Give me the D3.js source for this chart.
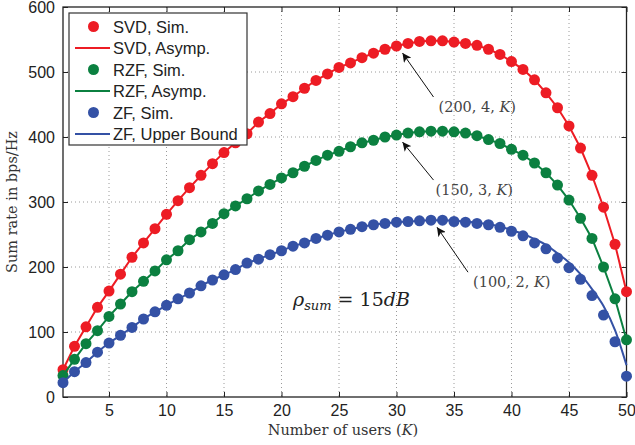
<!DOCTYPE html>
<html>
<head>
<meta charset="utf-8">
<script src="https://cdnjs.cloudflare.com/ajax/libs/d3/7.8.5/d3.min.js"></script>
<style>
  body { margin: 0; background: #fff; }
  svg { display: block; }
</style>
</head>
<body>
<script>
// number of users K = 1..50
var users = d3.range(1, 51);

var svdSim = [42, 78, 108, 138, 163, 189, 215, 237, 259, 281,
              302, 322, 341, 359, 376, 391, 405, 423, 436, 451,
              462, 475, 487, 497, 507, 514, 522, 529, 535, 540,
              544, 547, 548, 548, 546, 544, 541, 535, 527, 516,
              504, 488, 468, 445, 417, 383, 341, 292, 235, 162];
var svdAsymp = svdSim;

var rzfSim = [33, 58, 82, 102, 124, 143, 162, 178, 194, 211,
              225, 242, 254, 267, 282, 294, 305, 317, 327, 337,
              345, 355, 364, 372, 378, 385, 391, 395, 400, 403,
              406, 408, 409, 409, 408, 406, 402, 396, 390, 381,
              372, 360, 345, 326, 303, 275, 244, 200, 151, 88];
var rzfAsymp = rzfSim;

var zfSim = [22, 39, 53, 69, 83, 95, 107, 120, 131, 141,
             151, 160, 171, 180, 188, 196, 206, 212, 219, 225,
             232, 237, 244, 249, 254, 258, 262, 265, 267, 269,
             270, 271, 272, 272, 270, 269, 267, 265, 261, 255,
             248, 237, 228, 214, 199, 181, 156, 126, 85, 32];
var zfBound = [22, 39, 53, 69, 83, 95, 107, 120, 131, 141,
               151, 160, 171, 180, 188, 196, 206, 212, 219, 225,
               232, 237, 244, 249, 254, 258, 262, 265, 267, 269,
               270, 271, 272, 272, 271, 270, 268, 266, 262, 257,
               251, 243, 234, 221, 207, 189, 166, 140, 103, 49];

var xTicks = [5, 10, 15, 20, 25, 30, 35, 40, 45, 50];
var yTicks = [0, 100, 200, 300, 400, 500, 600];

var legendLabels = ["SVD, Sim.", "SVD, Asymp.", "RZF, Sim.", "RZF, Asymp.", "ZF, Sim.", "ZF, Upper Bound"];

// annotations: point on curve the arrow aims at, and the label
var notes = [
  {k: 30, v: 540, label: "200, 4, "},
  {k: 30, v: 403, label: "150, 3, "},
  {k: 33, v: 272, label: "100, 2, "}
];

var red = "#ed1c24", green = "#0b8040", blue = "#3451a5";

var width = 635, height = 445;
var plotLeft = 63, plotRight = 626.5, plotTop = 7, plotBottom = 397;

var svg = d3.select("body").append("svg")
    .attr("width", width)
    .attr("height", height);

var x = d3.scaleLinear().domain([1, 50]).range([plotLeft, plotRight]);
var y = d3.scaleLinear().domain([0, 600]).range([plotBottom, plotTop]);

// grid
svg.append("g").selectAll("line")
    .data(xTicks.filter(function(d) { return d < 50; }))
    .join("line")
    .attr("x1", function(d) { return x(d); })
    .attr("x2", function(d) { return x(d); })
    .attr("y1", plotTop).attr("y2", plotBottom)
    .attr("stroke", "#9a9a9a").attr("stroke-width", 1)
    .attr("stroke-dasharray", "1,3");
svg.append("g").selectAll("line")
    .data(yTicks.filter(function(d) { return d > 0 && d < 600; }))
    .join("line")
    .attr("y1", function(d) { return y(d); })
    .attr("y2", function(d) { return y(d); })
    .attr("x1", plotLeft).attr("x2", plotRight)
    .attr("stroke", "#9a9a9a").attr("stroke-width", 1)
    .attr("stroke-dasharray", "1,3");

// axes (inward ticks, matlab box)
var axisColor = "#222";
function styleAxis(g) {
    g.select(".domain").remove();
    g.selectAll(".tick line").attr("stroke", axisColor);
    g.selectAll(".tick text")
        .attr("fill", "#222")
        .style("font-family", "Liberation Sans, Arial, sans-serif")
        .style("font-size", "16px");
}
svg.append("g")
    .attr("transform", "translate(0," + plotBottom + ")")
    .call(d3.axisBottom(x).tickValues(xTicks).tickSizeInner(-5).tickSizeOuter(0).tickPadding(8))
    .call(styleAxis);
svg.append("g")
    .attr("transform", "translate(0," + plotTop + ")")
    .call(d3.axisTop(x).tickValues(xTicks).tickSizeInner(-5).tickSizeOuter(0).tickFormat(""))
    .call(styleAxis);
svg.append("g")
    .attr("transform", "translate(" + plotLeft + ",0)")
    .call(d3.axisLeft(y).tickValues(yTicks).tickSizeInner(-5).tickSizeOuter(0).tickPadding(8))
    .call(styleAxis);
svg.append("g")
    .attr("transform", "translate(" + plotRight + ",0)")
    .call(d3.axisRight(y).tickValues(yTicks).tickSizeInner(-5).tickSizeOuter(0).tickFormat(""))
    .call(styleAxis);

svg.append("rect")
    .attr("x", plotLeft).attr("y", plotTop)
    .attr("width", plotRight - plotLeft).attr("height", plotBottom - plotTop)
    .attr("fill", "none").attr("stroke", axisColor).attr("stroke-width", 1.3);

// series
var series = [
    {sim: svdSim, line: svdAsymp, color: red, curve: d3.curveLinear},
    {sim: rzfSim, line: rzfAsymp, color: green, curve: d3.curveLinear},
    {sim: zfSim, line: zfBound, color: blue, curve: d3.curveMonotoneX}
];

series.forEach(function(s) {
    var line = d3.line()
        .x(function(d, i) { return x(users[i]); })
        .y(function(d) { return y(d); })
        .curve(s.curve);
    svg.append("path")
        .datum(s.line)
        .attr("d", line)
        .attr("fill", "none")
        .attr("stroke", s.color)
        .attr("stroke-width", 2);
    svg.append("g").selectAll("circle")
        .data(s.sim)
        .join("circle")
        .attr("cx", function(d, i) { return x(users[i]); })
        .attr("cy", function(d) { return y(d); })
        .attr("r", 5.5)
        .attr("fill", s.color);
});

// arrows + labels
svg.append("defs").append("marker")
    .attr("id", "head")
    .attr("viewBox", "0 0 10 10")
    .attr("refX", 10).attr("refY", 5)
    .attr("markerWidth", 9).attr("markerHeight", 9)
    .attr("markerUnits", "userSpaceOnUse")
    .attr("orient", "auto")
    .append("path")
    .attr("d", "M0,0 L10,5 L0,10 L2.5,5 z")
    .attr("fill", "#111");

var noteOffsets = [
    {dx: 31, dy: 44, tx: 36, ty: 59},
    {dx: 31, dy: 38, tx: 33, ty: 53},
    {dx: 31, dy: 45, tx: 36, ty: 60}
];

notes.forEach(function(n, i) {
    var px = x(n.k) + 6, py = y(n.v) + 7;
    var o = noteOffsets[i];
    svg.append("line")
        .attr("x1", px + o.dx).attr("y1", py + o.dy)
        .attr("x2", px).attr("y2", py)
        .attr("stroke", "#111").attr("stroke-width", 1)
        .attr("marker-end", "url(#head)");
    var t = svg.append("text")
        .attr("x", px + o.tx).attr("y", py + o.ty)
        .attr("fill", "#444")
        .style("font-family", "DejaVu Serif, Liberation Serif, serif")
        .style("font-size", "14.5px");
    t.append("tspan").text("(" + n.label);
    t.append("tspan").style("font-style", "italic").text("K");
    t.append("tspan").text(")");
});

// rho_sum label
var rho = svg.append("text")
    .attr("x", 293).attr("y", 306)
    .attr("fill", "#222")
    .style("font-family", "DejaVu Serif, Liberation Serif, serif")
    .style("font-size", "19px");
rho.append("tspan").style("font-style", "italic").text("ρ");
rho.append("tspan").attr("dy", 4).style("font-size", "13px").style("font-style", "italic").text("sum");
rho.append("tspan").attr("dy", -4).text(" = 15");
rho.append("tspan").style("font-style", "italic").text("dB");

// axis titles
svg.append("text")
    .attr("x", 343).attr("y", 435)
    .attr("text-anchor", "middle")
    .attr("fill", "#333")
    .style("font-family", "DejaVu Serif, Liberation Serif, serif")
    .style("font-size", "14.5px")
    .call(function(t) {
        t.append("tspan").text("Number of users (");
        t.append("tspan").style("font-style", "italic").text("K");
        t.append("tspan").text(")");
    });
svg.append("text")
    .attr("transform", "translate(17,202) rotate(-90)")
    .attr("text-anchor", "middle")
    .attr("fill", "#333")
    .style("font-family", "DejaVu Serif, Liberation Serif, serif")
    .style("font-size", "14.5px")
    .text("Sum rate in bps/Hz");

// legend
var legend = svg.append("g").attr("transform", "translate(69,13)");
legend.append("rect")
    .attr("width", 178).attr("height", 132)
    .attr("fill", "#fff").attr("stroke", "#333").attr("stroke-width", 1.2);
var legendColors = [red, red, green, green, blue, blue];
legendLabels.forEach(function(label, i) {
    var ly = 13.5 + i * 21.5;
    if (i % 2 === 0) {
        legend.append("circle").attr("cx", 24.5).attr("cy", ly).attr("r", 5.5).attr("fill", legendColors[i]);
    } else {
        legend.append("line").attr("x1", 6).attr("x2", 41).attr("y1", ly).attr("y2", ly)
            .attr("stroke", legendColors[i]).attr("stroke-width", 2);
    }
    legend.append("text")
        .attr("x", 44).attr("y", ly + 6)
        .attr("fill", "#222")
        .style("font-family", "Liberation Sans, Arial, sans-serif")
        .style("font-size", "16.5px")
        .text(label);
});
</script>
</body>
</html>
